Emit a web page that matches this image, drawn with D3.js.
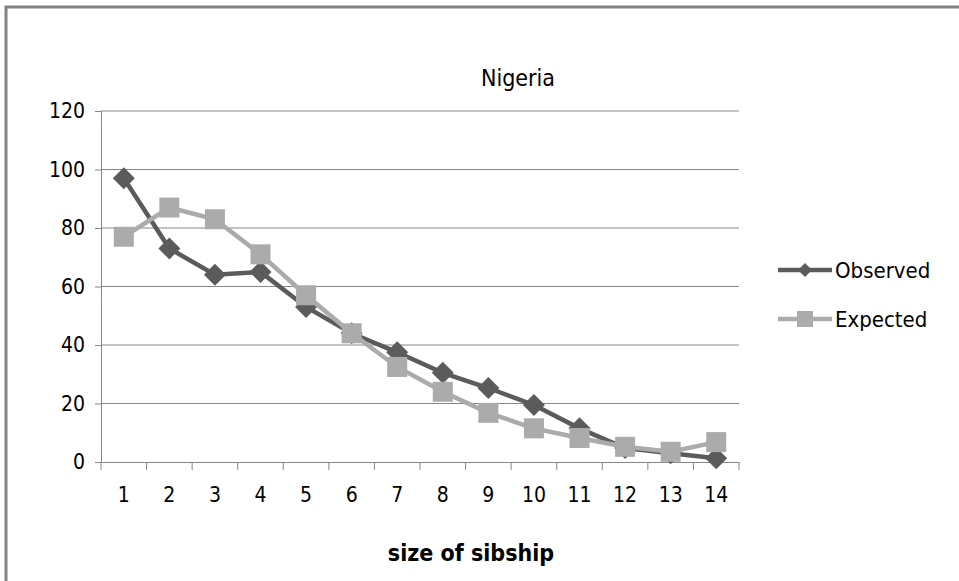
<!DOCTYPE html>
<html><head><meta charset="utf-8">
<script src="https://cdn.jsdelivr.net/npm/d3@7"></script>
<style>
body{margin:0;background:#fff;}
text{font-family:"Liberation Sans Narrow","DejaVu Sans Condensed","Open Sans",sans-serif;fill:#000;}
</style></head><body>
<svg id="c" width="959" height="581"></svg>
<script>
const categories = [1,2,3,4,5,6,7,8,9,10,11,12,13,14];
const observed = [97,73,64,65,53,44,37.5,30.5,25.3,19.5,11.5,4.8,3,1.3];
const expected = [77,87,83,71,57,44,32.5,24,16.8,11.5,8.2,5.2,3.5,6.8];
const yTicks = [0,20,40,60,80,100,120];
const seriesNames = ["Observed","Expected"];

const svg = d3.select("#c");
svg.append("path").attr("d","M6,581 L6,7 L959,7").attr("fill","none").attr("stroke","#828282").attr("stroke-width",3);

const L=101,R=739,T=111,B=462;
const x = d3.scaleBand().domain(categories).range([L,R]);
const y = d3.scaleLinear().domain([0,120]).range([B,T]);

svg.append("g").selectAll("line").data(yTicks.filter(d=>d>0)).join("line")
  .attr("x1",L).attr("x2",R).attr("y1",d=>y(d)).attr("y2",d=>y(d))
  .attr("stroke","#868686").attr("stroke-width",1);

const ya = svg.append("g").attr("transform",`translate(${L},0)`)
  .call(d3.axisLeft(y).tickValues(yTicks).tickSize(6).tickPadding(10));
ya.selectAll("path,line").attr("stroke","#868686");
ya.selectAll("text").style("font-size","21px").attr("fill","#000");

const xa = svg.append("g").attr("transform",`translate(0,${B})`)
  .call(d3.axisBottom(x).tickSize(0).tickPadding(25).tickSizeOuter(0));
xa.select("path").attr("stroke","#868686");
xa.selectAll("text").style("font-size","21px").attr("fill","#000");
const bounds = categories.map(c=>x(c)).concat([R]);
svg.append("g").selectAll("line").data(bounds).join("line")
  .attr("x1",d=>d).attr("x2",d=>d).attr("y1",B).attr("y2",B+8)
  .attr("stroke","#868686");

const cx = d=>x(d)+x.bandwidth()/2;
const line = d3.line().x((d,i)=>cx(categories[i])).y(d=>y(d));
const diamond = s=>`M0,${-s}L${s},0L0,${s}L${-s},0Z`;

const cols = ["#5b5b5b","#ababab"];
svg.append("path").datum(observed).attr("d",line).attr("fill","none").attr("stroke",cols[0]).attr("stroke-width",4.5);
svg.append("g").selectAll("path").data(observed).join("path")
  .attr("d",diamond(11))
  .attr("transform",(d,i)=>`translate(${cx(categories[i])},${y(d)})`).attr("fill",cols[0]);
svg.append("path").datum(expected).attr("d",line).attr("fill","none").attr("stroke",cols[1]).attr("stroke-width",4.5);
svg.append("g").selectAll("rect").data(expected).join("rect")
  .attr("x",(d,i)=>cx(categories[i])-10).attr("y",d=>y(d)-10).attr("width",20).attr("height",20).attr("fill",cols[1]);

svg.append("text").attr("x",518).attr("y",86).attr("text-anchor","middle").style("font-size","23px").text("Nigeria");
svg.append("text").attr("x",471).attr("y",561).attr("text-anchor","middle").style("font-size","23px").style("font-weight","bold").text("size of sibship");

const leg = svg.append("g");
[270,319].forEach((ly,i)=>{
  leg.append("line").attr("x1",778).attr("x2",832).attr("y1",ly).attr("y2",ly).attr("stroke",cols[i]).attr("stroke-width",4.5);
  if(i===0) leg.append("path").attr("d",diamond(7)).attr("transform",`translate(805,${ly})`).attr("fill",cols[0]);
  else leg.append("rect").attr("x",797).attr("y",ly-8).attr("width",16).attr("height",16).attr("fill",cols[1]);
  leg.append("text").attr("x",835).attr("y",ly+8).style("font-size","22px").text(seriesNames[i]);
});
</script></body></html>
